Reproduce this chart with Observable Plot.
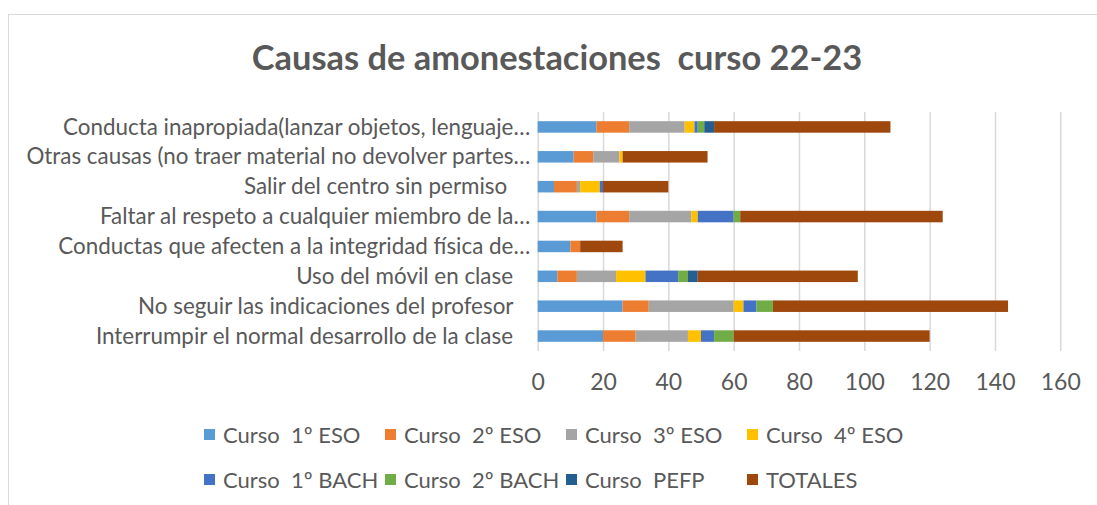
<!DOCTYPE html>
<html>
<head>
<meta charset="utf-8">
<script src="https://cdn.jsdelivr.net/npm/d3@7"></script>
<script src="https://cdn.jsdelivr.net/npm/@observablehq/plot@0.6"></script>
<style>
  body { margin: 0; background: #fff; font-family: Lato, "Noto Sans", sans-serif; }
  #wrap { position: relative; width: 1097px; height: 505px; overflow: hidden; background: #fff; }
  #frame { position: absolute; left: 8px; top: 14px; width: 1200px; height: 600px; border: 1px solid #d9d9d9; box-sizing: border-box; }
  #title { position: absolute; left: 0; width: 1114px; top: 36px; line-height: 42px; text-align: center;
           font-weight: 700; color: #595959; font-size: 34.4px; white-space: pre; }
  #chart { position: absolute; left: 0; top: 0; }
  #chart svg text { white-space: pre; }
  #legend { position: absolute; left: 204px; top: 412px; display: grid;
            grid-template-columns: repeat(4, 181px); grid-auto-rows: 45px; }
  .item { display: flex; align-items: center; font-size: 22px; color: #595959; white-space: pre; }
  .sw { width: 11px; height: 11px; margin-right: 8px; flex: none; }
</style>
</head>
<body>
<div id="wrap">
  <div id="frame"></div>
  <div id="title"></div>
  <div id="chart"></div>
  <div id="legend"></div>
</div>
<script>
const titleText = "Causas de amonestaciones  curso 22-23";

const categories = [
  "Conducta inapropiada(lanzar objetos, lenguaje…",
  "Otras causas (no traer material no devolver partes…",
  "Salir del centro sin permiso    ",
  "Faltar al respeto a cualquier miembro de la…",
  "Conductas que afecten a la integridad física de…",
  "Uso del móvil en clase   ",
  "No seguir las indicaciones del profesor   ",
  "Interrumpir el normal desarrollo de la clase   "
];

const series = ["Curso  1º ESO", "Curso  2º ESO", "Curso  3º ESO", "Curso  4º ESO",
                "Curso  1º BACH", "Curso  2º BACH", "Curso  PEFP", "TOTALES"];
const colors = ["#5B9BD5", "#ED7D31", "#A5A5A5", "#FFC000", "#4472C4", "#70AD47", "#255E91", "#9E480E"];

const eso1    = [18, 11, 5, 18, 10, 6, 26, 20];
const eso2    = [10, 6, 7, 10, 3, 6, 8, 10];
const eso3    = [17, 8, 1, 19, 0, 12, 26, 16];
const eso4    = [3, 1, 6, 2, 0, 9, 3, 4];
const bach1   = [1, 0, 1, 11, 0, 10, 4, 4];
const bach2   = [2, 0, 0, 2, 0, 3, 5, 6];
const pefp    = [3, 0, 0, 0, 0, 3, 0, 0];
const totales = [54, 26, 20, 62, 13, 49, 72, 60];

const xTicks = [0, 20, 40, 60, 80, 100, 120, 140, 160];

const seriesValues = [eso1, eso2, eso3, eso4, bach1, bach2, pefp, totales];
const rows = [];
categories.forEach((c, i) => {
  seriesValues.forEach((arr, j) => rows.push({cat: c, series: series[j], value: arr[i]}));
});

document.getElementById("title").textContent = titleText;

const chart = Plot.plot({
  width: 1097,
  height: 400,
  marginLeft: 537.7,
  marginRight: 36.7,
  marginTop: 112,
  marginBottom: 49,
  style: {fontFamily: "Lato, 'Noto Sans', sans-serif", color: "#595959", background: "transparent", overflow: "visible"},
  x: {domain: [0, 160], label: null},
  y: {domain: categories, paddingInner: 0.615, paddingOuter: 0.3075, round: false, label: null},
  color: {domain: series, range: colors},
  marks: [
    Plot.gridX(xTicks, {stroke: "#d9d9d9", strokeOpacity: 1, strokeWidth: 1.5}),
    Plot.barX(rows, {y: "cat", x: "value", fill: "series"}),
    Plot.axisX(xTicks, {tickSize: 0, tickPadding: 22, fontSize: 23, label: null}),
    Plot.axisY({tickSize: 0, tickPadding: 8, fontSize: 22.4, label: null})
  ]
});
chart.querySelectorAll("text").forEach(t => t.setAttribute("xml:space", "preserve"));
document.getElementById("chart").appendChild(chart);

const legend = document.getElementById("legend");
series.forEach((s, i) => {
  const it = document.createElement("div");
  it.className = "item";
  const sw = document.createElement("span");
  sw.className = "sw";
  sw.style.background = colors[i];
  const tx = document.createElement("span");
  tx.textContent = s;
  it.appendChild(sw);
  it.appendChild(tx);
  legend.appendChild(it);
});
</script>
</body>
</html>
